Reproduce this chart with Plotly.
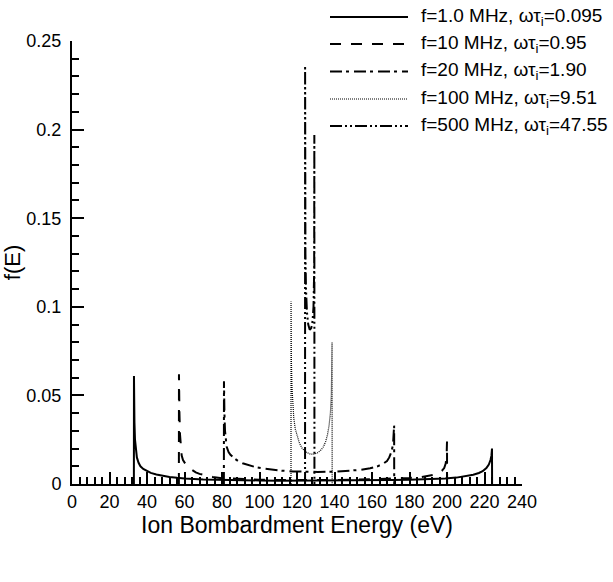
import plotly.graph_objects as go

# ---------------- data ----------------
series_names = [
    "f=1.0 MHz, ωτ<sub>i</sub>=0.095",
    "f=10 MHz, ωτ<sub>i</sub>=0.95",
    "f=20 MHz, ωτ<sub>i</sub>=1.90",
    "f=100 MHz, ωτ<sub>i</sub>=9.51",
    "f=500 MHz, ωτ<sub>i</sub>=47.55",
]

E1 = [33.0, 33.05, 33.3, 33.6, 34.0, 34.6, 35.5, 36.5, 38, 40, 42, 45, 48, 52, 56, 60, 70, 80, 90, 100,
      110, 120, 130, 140, 150, 160, 170, 180, 190, 199, 205, 210, 214, 217, 219, 221, 222.3, 223.2,
      223.7, 224.0, 224.05]
f1 = [0, 0.061, 0.035, 0.025, 0.019, 0.015, 0.012, 0.010, 0.0085, 0.0072, 0.0063, 0.0054, 0.0047,
      0.0040, 0.0035, 0.0031, 0.0026, 0.0023, 0.0021, 0.0020, 0.0019, 0.0019, 0.0019, 0.0019, 0.0020,
      0.0021, 0.0022, 0.0024, 0.0027, 0.0031, 0.0036, 0.0043, 0.0052, 0.0062, 0.0072, 0.0090, 0.0110,
      0.0135, 0.0160, 0.0200, 0]

E2 = [57.0, 57.05, 57.3, 57.6, 58.0, 58.5, 59.2, 60.0, 61.0, 62.5, 64, 66, 68, 71, 75, 80, 90,
      100, 110, 120, 130, 140, 150, 160, 170, 180, 186, 190, 193, 195.5, 197.3, 198.5, 199.3, 199.8,
      200.0, 200.05]
f2 = [0, 0.062, 0.040, 0.028, 0.020, 0.016, 0.0135, 0.012, 0.0105, 0.009, 0.0078, 0.0066, 0.0057,
      0.0048, 0.0040, 0.0033, 0.0027, 0.0024, 0.0023, 0.0022, 0.0022, 0.0023, 0.0024, 0.0026, 0.0029,
      0.0034, 0.0039, 0.0045, 0.0052, 0.0062, 0.0075, 0.0090, 0.0115, 0.016, 0.024, 0]

E3 = [81.0, 81.05, 81.3, 81.6, 82.0, 82.5, 83.5, 84.5, 86.5, 88.5, 91, 94, 98, 102, 107, 112, 118,
      124, 131, 140, 147, 154, 159, 163, 166, 168, 169.2, 170.3, 171.2, 171.8, 171.85]
f3 = [0, 0.058, 0.040, 0.030, 0.024, 0.021, 0.018, 0.0165, 0.0145, 0.013, 0.0117, 0.0106, 0.0095,
      0.0087, 0.0080, 0.0075, 0.0071, 0.0069, 0.0068, 0.0069, 0.0073, 0.0080, 0.0089, 0.0100, 0.0115,
      0.0130, 0.0150, 0.0180, 0.022, 0.033, 0]

E4 = [116.8, 116.82, 117.0, 117.3, 117.7, 118.3, 119.1, 120.1, 121.3, 122.8, 124.8, 126.8, 128.8,
      130.8, 132.6, 134.1, 135.3, 136.3, 137.1, 137.8, 138.3, 138.7, 138.75]
f4 = [0, 0.103, 0.070, 0.055, 0.045, 0.037, 0.031, 0.027, 0.023, 0.020, 0.018, 0.017, 0.0168, 0.0175,
      0.019, 0.021, 0.024, 0.028, 0.033, 0.040, 0.050, 0.080, 0]

E5 = [124.3, 124.32, 124.5, 124.8, 125.3, 126.0, 126.8, 127.6, 128.3, 128.8, 129.15, 129.25, 129.3]
f5 = [0, 0.236, 0.130, 0.110, 0.097, 0.090, 0.087, 0.088, 0.092, 0.100, 0.120, 0.197, 0]

x_ticks = [0, 20, 40, 60, 80, 100, 120, 140, 160, 180, 200, 220, 240]
y_ticks = [0, 0.05, 0.1, 0.15, 0.2, 0.25]
y_tick_text = ["0", "0.05", "0.1", "0.15", "0.2", "0.25"]

# ---------------- styles ----------------
dashes = ["solid", "11px,10px", "12px,4px,3px,5px", "1px,1px", "12px,3px,2px,3px,2px,3px"]
widths = [2, 2, 2, 1.2, 2]

fig = go.Figure()
for E, f, nm, d, w in zip([E1, E2, E3, E4, E5], [f1, f2, f3, f4, f5], series_names, dashes, widths):
    fig.add_trace(go.Scatter(x=E, y=f, mode="lines", name=nm,
                             line=dict(color="black", width=w, dash=d)))

# manual legend (top right)
row_py = [17, 44, 71.5, 99, 126]
x0p, x1p, xtp = 330, 408, 419
PL, PR, PT, PB = 72, 522, 41, 484
def px2x(p):
    return (p - PL) / (PR - PL)
def py2y(p):
    return (PB - p) / (PB - PT)

shapes = []
annotations = []
for nm, d, w, py in zip(series_names, dashes, widths, row_py):
    shapes.append(dict(type="line", xref="paper", yref="paper",
                       x0=px2x(x0p), x1=px2x(x1p), y0=py2y(py), y1=py2y(py),
                       line=dict(color="black", width=w, dash=d)))
    annotations.append(dict(xref="paper", yref="paper", x=px2x(xtp), y=py2y(py),
                            text=nm, showarrow=False, xanchor="left", yanchor="middle",
                            font=dict(size=19, color="black")))

fig.update_layout(
    width=613, height=582,
    margin=dict(l=PL, r=613 - PR, t=PT, b=582 - PB),
    plot_bgcolor="white", paper_bgcolor="white",
    showlegend=False,
    font=dict(family="Arial, Liberation Sans, Helvetica, sans-serif", color="black"),
    shapes=shapes, annotations=annotations,
)
fig.update_xaxes(
    range=[0, 240], tickmode="array", tickvals=x_ticks, ticktext=[str(v) for v in x_ticks],
    ticks="inside", ticklen=12, tickwidth=1.5, tickcolor="black",
    minor=dict(dtick=4, tick0=0, ticks="inside", ticklen=7, tickwidth=1.5, tickcolor="black"),
    showline=True, linewidth=2, linecolor="black", showgrid=False, zeroline=False,
    tickfont=dict(size=18),
    title=dict(text="Ion Bombardment Energy (eV)", font=dict(size=23), standoff=4),
)
fig.update_yaxes(
    range=[0, 0.25], tickmode="array", tickvals=y_ticks, ticktext=y_tick_text,
    ticks="inside", ticklen=12, tickwidth=1.5, tickcolor="black",
    minor=dict(dtick=0.01, tick0=0, ticks="inside", ticklen=7, tickwidth=1.5, tickcolor="black"),
    showline=True, linewidth=2, linecolor="black", showgrid=False, zeroline=False,
    tickfont=dict(size=18), ticklabelstandoff=5,
    title=dict(text="f(E)", font=dict(size=22), standoff=0),
)

fig.write_html("out.html")
